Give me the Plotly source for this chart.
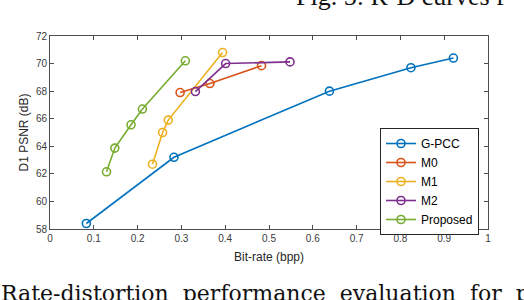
import plotly.graph_objects as go

# Data
gpcc_x = [0.083, 0.283, 0.638, 0.824, 0.921]
gpcc_y = [58.4, 63.2, 68.0, 69.7, 70.4]
m0_x = [0.297, 0.365, 0.483]
m0_y = [67.9, 68.55, 69.85]
m1_x = [0.234, 0.257, 0.270, 0.394]
m1_y = [62.7, 65.0, 65.9, 70.8]
m2_x = [0.332, 0.401, 0.548]
m2_y = [67.97, 70.0, 70.12]
prop_x = [0.129, 0.148, 0.185, 0.211, 0.309]
prop_y = [62.15, 63.87, 65.56, 66.7, 70.2]

names = ["G-PCC", "M0", "M1", "M2", "Proposed"]
colors = ["#0072BD", "#D95319", "#EDB120", "#7E2F8E", "#77AC30"]
series = [(gpcc_x, gpcc_y), (m0_x, m0_y), (m1_x, m1_y), (m2_x, m2_y), (prop_x, prop_y)]

x_ticks = [0, 0.1, 0.2, 0.3, 0.4, 0.5, 0.6, 0.7, 0.8, 0.9, 1]
x_tick_labels = ["0", "0.1", "0.2", "0.3", "0.4", "0.5", "0.6", "0.7", "0.8", "0.9", "1"]
y_ticks = [58, 60, 62, 64, 66, 68, 70, 72]

fig = go.Figure()
for (xs, ys), name, c in zip(series, names, colors):
    fig.add_trace(go.Scatter(
        x=xs, y=ys, name=name, mode="lines+markers",
        line=dict(color=c, width=1.6),
        marker=dict(symbol="circle-open", size=8, color=c, line=dict(width=1.6, color=c)),
    ))

axis_color = "#4d4d4d"
font_family = "Liberation Sans, Arial, sans-serif"
fig.update_layout(
    width=524, height=300,
    margin=dict(l=50, r=36, t=36, b=71, autoexpand=False),
    paper_bgcolor="white", plot_bgcolor="white",
    font=dict(family=font_family, color="#262626"),
    showlegend=True,
    legend=dict(
        x=(479 - 50) / 438, y=(229 - 128) / 193, xanchor="right", yanchor="top",
        bgcolor="white", bordercolor="#262626", borderwidth=1,
        font=dict(size=12, color="#000000", family=font_family),
        tracegroupgap=0, itemwidth=30,
    ),
    xaxis=dict(
        range=[0, 1], tickvals=x_ticks, ticktext=x_tick_labels,
        showgrid=False, zeroline=False, automargin=False,
        showline=True, linecolor=axis_color, linewidth=1, mirror="ticks",
        ticks="inside", ticklen=4, tickcolor=axis_color,
        tickfont=dict(size=10, color="#3a3a3a"),
        title=dict(text="Bit-rate (bpp)", font=dict(size=12, color="#262626"), standoff=9),
    ),
    yaxis=dict(
        range=[58, 72], tickvals=y_ticks,
        showgrid=False, zeroline=False, automargin=False,
        showline=True, linecolor=axis_color, linewidth=1, mirror="ticks",
        ticks="inside", ticklen=4, tickcolor=axis_color,
        tickfont=dict(size=10, color="#3a3a3a"),
        title=dict(text="D1 PSNR (dB)", font=dict(size=12, color="#262626"), standoff=4),
    ),
    annotations=[
        dict(text="Fig. 5: R-D curves f", xref="paper", yref="paper",
             x=(295 - 50) / 438, y=1 + (36 - 12) / 193, xanchor="left", yanchor="bottom",
             showarrow=False, borderpad=0,
             font=dict(family="Liberation Serif, Times New Roman, serif", size=26, color="#111111")),
        dict(text="Rate-distortion  performance  evaluation  for  p", xref="paper", yref="paper",
             x=(0 - 50) / 438, y=-(280 - 229) / 193, xanchor="left", yanchor="top",
             showarrow=False, borderpad=0,
             font=dict(family="DejaVu Serif, Liberation Serif, serif", size=22, color="#111111")),
    ],
)

fig.write_html("out.html", config={"displayModeBar": False},
               post_script="document.body.style.margin='0';document.body.style.overflow='hidden';")
